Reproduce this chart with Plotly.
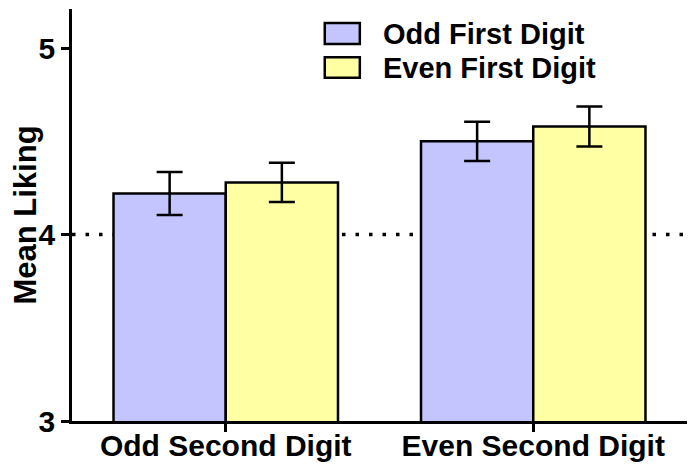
import plotly.graph_objects as go

# data
categories = ["Odd Second Digit", "Even Second Digit"]
odd_first = [4.22, 4.50]
odd_first_err = [0.115, 0.105]
even_first = [4.28, 4.58]
even_first_err = [0.105, 0.107]
series_names = ["Odd First Digit", "Even First Digit"]
y_ticks = [3, 4, 5]
chance_level = 4

PURPLE = "#C4C4FF"
YELLOW = "#FFFFA3"
FONT = "Liberation Sans, Arial, sans-serif"

fig = go.Figure()

for name, vals, errs, col in [
    (series_names[0], odd_first, odd_first_err, PURPLE),
    (series_names[1], even_first, even_first_err, YELLOW),
]:
    fig.add_trace(go.Bar(
        x=categories, y=vals, name=name,
        marker=dict(color=col, line=dict(color="black", width=2.5)),
        error_y=dict(type="data", array=errs, color="black", thickness=2.5, width=13),
        showlegend=False,
    ))

# dotted reference line at 4, behind bars
fig.add_shape(type="line", xref="paper", x0=0, x1=1, y0=chance_level, y1=chance_level,
              line=dict(color="black", width=3.5, dash="3.5px,10px"), layer="below")

# custom legend (large swatches like the original)
legend_rows = [(0.966, 0.915, 0.940), (0.883, 0.833, 0.858)]
for (y1, y0, yc), name, col in zip(legend_rows, series_names, [PURPLE, YELLOW]):
    fig.add_shape(type="rect", xref="paper", yref="paper", x0=0.411, x1=0.468, y0=y0, y1=y1,
                  fillcolor=col, line=dict(color="black", width=2.5))
    fig.add_annotation(xref="paper", yref="paper", x=0.503, y=yc, text=name, showarrow=False,
                       xanchor="left", yanchor="middle",
                       font=dict(family=FONT, size=29, color="black", weight="bold"))

# page body has an 8px margin, so the figure is sized to fit inside it
fig.update_layout(
    width=684, height=460,
    paper_bgcolor="white", plot_bgcolor="white",
    margin=dict(l=64, r=5, t=1, b=47),
    barmode="group", bargap=0.27, bargroupgap=0,
    font=dict(family=FONT, color="black"),
    xaxis=dict(
        range=[-0.5, 1.5], showgrid=False, zeroline=False, automargin=False,
        showline=True, linecolor="black", linewidth=2.5,
        ticks="outside", ticklen=8, tickwidth=2.5, tickcolor="black",
        ticklabelstandoff=-12,
        tickfont=dict(family=FONT, size=30, color="black", weight="bold"),
    ),
    yaxis=dict(
        range=[3, 5.21], tickvals=y_ticks, showgrid=False, zeroline=False, automargin=False,
        showline=True, linecolor="black", linewidth=2.5,
        ticks="outside", ticklen=8, tickwidth=2.5, tickcolor="black",
        tickfont=dict(family=FONT, size=30, color="black", weight="bold"),
        title=dict(text="Mean Liking", standoff=13,
                   font=dict(family=FONT, size=31, color="black", weight="bold")),
    ),
)

fig.write_html("out.html")
